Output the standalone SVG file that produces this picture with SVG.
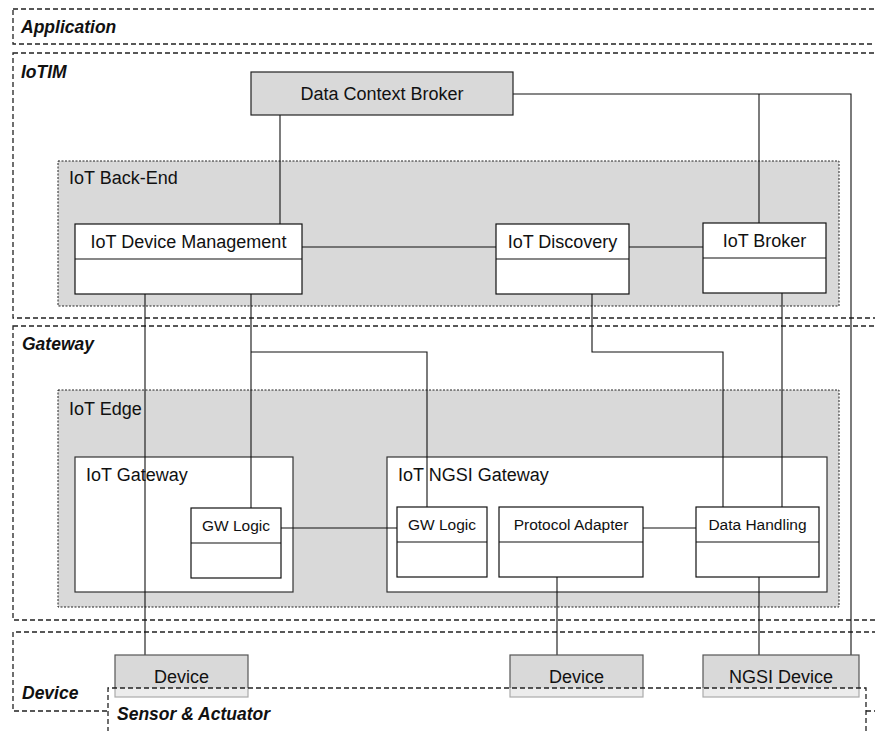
<svg xmlns="http://www.w3.org/2000/svg" width="875" height="731" viewBox="0 0 875 731">
<style>
.layer{fill:none;stroke:#222;stroke-width:1.3;stroke-dasharray:5 3}
.ctr{fill:#d9d9d9;stroke:#222;stroke-width:1;stroke-dasharray:2 1.5}
.sub{fill:#fff;stroke:#333;stroke-width:1.2}
.box{fill:#fff;stroke:#111;stroke-width:1.2}
.gbox{fill:#d9d9d9;stroke:#222;stroke-width:1.2}
.dev{fill:#d9d9d9;stroke:#555;stroke-width:1.2}
.conn line,.conn polyline{fill:none;stroke:#111;stroke-width:1.1}
.lt{font-family:"Liberation Sans",Arial,sans-serif;font-weight:bold;font-style:italic;font-size:17.5px;fill:#111}
.t{font-family:"Liberation Sans",Arial,sans-serif;font-size:18px;fill:#111}
.s{font-family:"Liberation Sans",Arial,sans-serif;font-size:15.5px;fill:#111}
</style>
<rect width="875" height="731" fill="#fff"/>
<g id="layer-application"><rect class="layer" x="13" y="9" width="880" height="35"/><text class="lt" x="21" y="33">Application</text></g>
<g id="layer-iotim"><rect class="layer" x="13" y="53" width="880" height="265"/><text class="lt" x="21" y="78">IoTIM</text></g>
<g id="layer-gateway"><rect class="layer" x="13" y="326" width="880" height="294"/><text class="lt" x="22" y="350">Gateway</text></g>
<g id="layer-device"><path class="layer" d="M893 632 H13 V711 H108 M866 711 H893"/><text class="lt" x="22" y="699">Device</text></g>
<g id="iot-backend"><rect class="ctr" x="58" y="161" width="781" height="145"/><text class="t" x="69" y="184">IoT Back-End</text></g>
<g id="iot-edge"><rect class="ctr" x="58" y="390" width="781" height="217"/><text class="t" x="69" y="415">IoT Edge</text></g>
<g id="iot-gateway"><rect class="sub" x="75" y="457" width="218" height="135"/><text class="t" x="86" y="481">IoT Gateway</text></g>
<g id="iot-ngsi-gateway"><rect class="sub" x="387" y="457" width="440" height="135"/><text class="t" x="398" y="481">IoT NGSI Gateway</text></g>
<g id="connectors" class="conn">
<polyline points="513,94 851,94 851,655"/>
<line x1="759" y1="94" x2="759" y2="223"/>
<line x1="280" y1="115" x2="280" y2="224"/>
<line x1="302" y1="247" x2="496" y2="247"/>
<line x1="629" y1="247" x2="703" y2="247"/>
<line x1="145" y1="294" x2="145" y2="655"/>
<line x1="251" y1="294" x2="251" y2="508"/>
<polyline points="251,352 427,352 427,507"/>
<polyline points="592,294 592,352 723,352 723,507"/>
<line x1="782" y1="293" x2="782" y2="507"/>
<line x1="281" y1="528" x2="397" y2="528"/>
<line x1="643" y1="528" x2="696" y2="528"/>
<line x1="557" y1="577" x2="557" y2="655"/>
<line x1="759" y1="577" x2="759" y2="655"/>
</g>
<g id="data-context-broker"><rect class="gbox" x="251" y="72" width="262" height="43"/><text class="t" x="382" y="100" text-anchor="middle">Data Context Broker</text></g>
<g id="iot-device-management"><rect class="box" x="75" y="224" width="227" height="70"/><line x1="75" y1="259" x2="302" y2="259" stroke="#111" stroke-width="1.2"/><text class="t" x="188.5" y="248" text-anchor="middle">IoT Device Management</text></g>
<g id="iot-discovery"><rect class="box" x="496" y="224" width="133" height="70"/><line x1="496" y1="259" x2="629" y2="259" stroke="#111" stroke-width="1.2"/><text class="t" x="562.5" y="248" text-anchor="middle">IoT Discovery</text></g>
<g id="iot-broker"><rect class="box" x="703" y="223" width="123" height="70"/><line x1="703" y1="258" x2="826" y2="258" stroke="#111" stroke-width="1.2"/><text class="t" x="764.5" y="247" text-anchor="middle">IoT Broker</text></g>
<g id="gw-logic-1"><rect class="box" x="191" y="508" width="90" height="70"/><line x1="191" y1="543" x2="281" y2="543" stroke="#111" stroke-width="1.2"/><text class="s" x="236" y="531" text-anchor="middle">GW Logic</text></g>
<g id="gw-logic-2"><rect class="box" x="397" y="507" width="90" height="70"/><line x1="397" y1="542" x2="487" y2="542" stroke="#111" stroke-width="1.2"/><text class="s" x="442" y="530" text-anchor="middle">GW Logic</text></g>
<g id="protocol-adapter"><rect class="box" x="499" y="507" width="144" height="70"/><line x1="499" y1="542" x2="643" y2="542" stroke="#111" stroke-width="1.2"/><text class="s" x="571" y="530" text-anchor="middle">Protocol Adapter</text></g>
<g id="data-handling"><rect class="box" x="696" y="507" width="123" height="70"/><line x1="696" y1="542" x2="819" y2="542" stroke="#111" stroke-width="1.2"/><text class="s" x="757.5" y="530" text-anchor="middle">Data Handling</text></g>
<g id="device-1"><rect class="dev" x="115" y="655" width="133" height="42"/><text class="t" x="181.5" y="683" text-anchor="middle">Device</text></g>
<g id="device-2"><rect class="dev" x="510" y="655" width="133" height="42"/><text class="t" x="576.5" y="683" text-anchor="middle">Device</text></g>
<g id="ngsi-device"><rect class="dev" x="703" y="655" width="156" height="42"/><text class="t" x="781" y="683" text-anchor="middle">NGSI Device</text></g>
<g id="layer-sensor-actuator"><rect x="108" y="688" width="758" height="60" fill="#fff" fill-opacity="0.5" stroke="none"/><path class="layer" d="M108 740 V688 H866 V740"/><text class="lt" x="117" y="720">Sensor &amp; Actuator</text></g>
</svg>
